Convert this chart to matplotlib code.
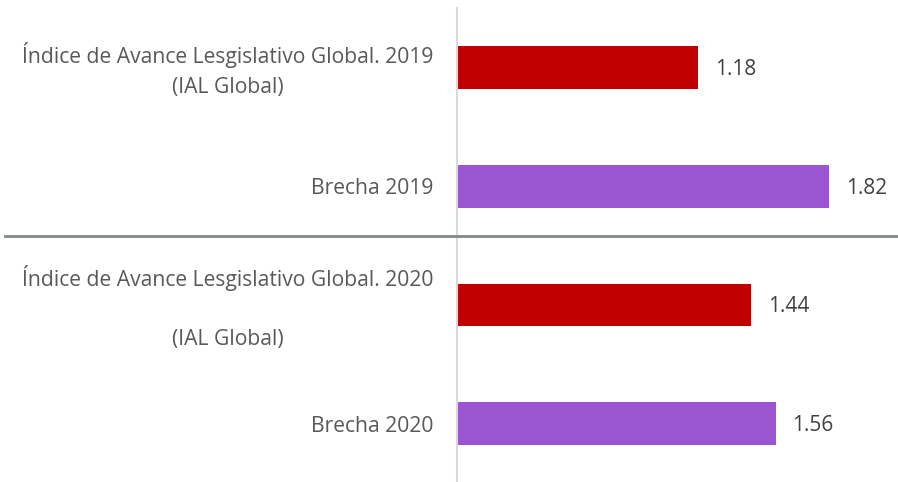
import matplotlib
matplotlib.use("Agg")
import matplotlib.pyplot as plt
from matplotlib.lines import Line2D
from matplotlib.transforms import ScaledTranslation

categories = [
    "Índice de Avance Lesgislativo Global. 2019\n(IAL Global)",
    "Brecha 2019",
    "Índice de Avance Lesgislativo Global. 2020\n\n(IAL Global)",
    "Brecha 2020",
]
values = [1.18, 1.82, 1.44, 1.56]
colors = ["#C00000", "#9B55D1", "#C00000", "#9B55D1"]
value_labels = ["1.18", "1.82", "1.44", "1.56"]

W, H = 898, 482
fig = plt.figure(figsize=(W / 100, H / 100), dpi=100)
plt.rcParams['font.family'] = ['Open Sans', 'DejaVu Sans']

ax_left, ax_right, ax_top, ax_bottom = 457, 895, 8, 483
ax = fig.add_axes([ax_left / W, 1 - ax_bottom / H, (ax_right - ax_left) / W, (ax_bottom - ax_top) / H])

pos = list(range(len(categories)))
ax.barh(pos, values, height=0.36, color=colors)
ax.set_ylim(len(categories) - 0.5, -0.5)
ax.set_xlim(0, (ax_right - ax_left) / 204.4)

for s in ["top", "right", "bottom"]:
    ax.spines[s].set_visible(False)
ax.spines["left"].set_color("#D9D9D9")
ax.spines["left"].set_linewidth(1.5)
ax.set_xticks([])
ax.set_yticks(pos)
ax.set_yticklabels(categories, fontsize=15.2, color="#595959", multialignment="center",
                   linespacing=1.52)
ax.tick_params(axis="y", length=0, pad=17)

for lbl in ax.get_yticklabels():
    if "\n" in lbl.get_text():
        lbl.set_transform(lbl.get_transform() + ScaledTranslation(0, 4 / 100, fig.dpi_scale_trans))

for p, v, lab in zip(pos, values, value_labels):
    ax.annotate(lab, (v, p), xytext=(12, -1.5), textcoords="offset points",
                va="center", ha="left", fontsize=15, color="#404040")

fig.add_artist(Line2D([5 / W, 1], [1 - 236 / H, 1 - 236 / H], color="#7F8A8A", linewidth=2))

fig.savefig("out.png", dpi=100)
